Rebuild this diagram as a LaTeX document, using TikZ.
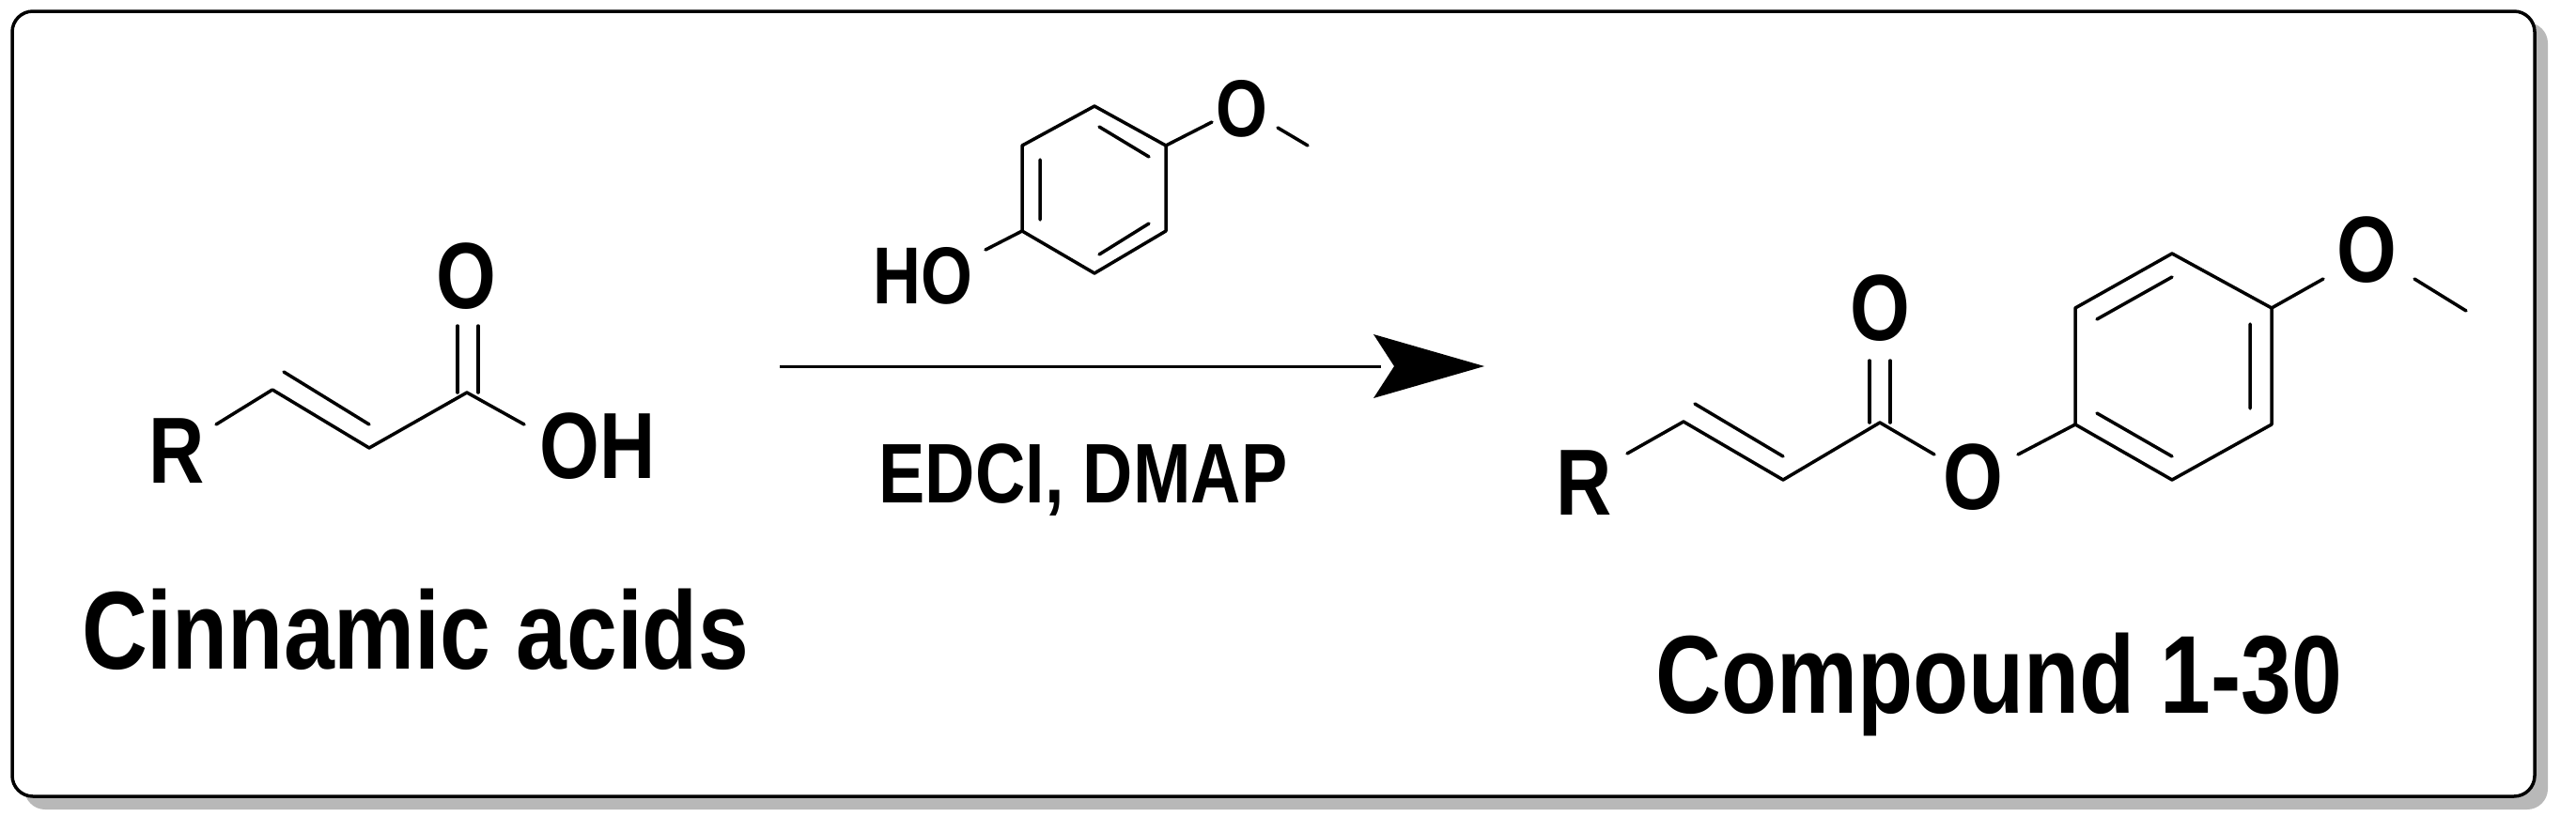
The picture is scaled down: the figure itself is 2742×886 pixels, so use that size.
\documentclass[tikz,border=0pt]{standalone}
\usepackage{fontspec}
\usepackage{graphicx}
\setmainfont{Liberation Sans}
\newcommand{\narw}[1]{\scalebox{0.82}[1]{#1}}
\begin{document}
\begin{tikzpicture}[x=1pt,y=-1pt,
  bond/.style={line width=3.5pt,line cap=round,line join=round},
  atom/.style={font=\fontsize{100}{110}\selectfont\bfseries,inner sep=0pt},
  atoms/.style={font=\fontsize{86}{96}\selectfont\bfseries,inner sep=0pt},
  lbl/.style={font=\fontsize{118}{130}\selectfont\bfseries,inner sep=0pt},
  cond/.style={font=\fontsize{90}{100}\selectfont\bfseries,inner sep=0pt}]
\useasboundingbox (0,0) rectangle (2742,886);
\fill[black!28,rounded corners=22pt] (26,24) rectangle (2712,862);
\draw[line width=3.5pt,fill=white,rounded corners=22pt] (13,12) rectangle (2698,848);
% left molecule
\node[atom] (R1) at (188,480) {\narw{R}};
\coordinate (a1) at (230,452); \coordinate (a2) at (290,415);
\coordinate (a3) at (393,477); \coordinate (a4) at (497,418);
\node[atom] (O1) at (496,294) {\narw{O}};
\node[atom] (OH) at (636,475) {\narw{OH}};
\draw[bond] (a1)--(a2)--(a3)--(a4)--(558,452);
\draw[bond] (302,396)--(393,452);
\draw[bond] (487,418)--(487,347) (509,418)--(509,347);
\node[lbl] (cin) at (442,670) {\narw{Cinnamic acids}};
% phenol
\coordinate (p1) at (1165,113); \coordinate (p2) at (1241,155);
\coordinate (p3) at (1241,246); \coordinate (p4) at (1165,291);
\coordinate (p5) at (1088,246); \coordinate (p6) at (1088,155);
\draw[bond] (p1)--(p2)--(p3)--(p4)--(p5)--(p6)--cycle;
\draw[bond] (1107,170)--(1107,234) (1170,135)--(1223,167) (1170,271)--(1223,238);
\draw[bond] (p5)--(1049,266);
\node[atoms] (HO) at (982,294) {\narw{HO}};
\draw[bond] (p2)--(1290,130);
\node[atoms] (O2) at (1322,116) {\narw{O}};
\draw[bond] (1360,136)--(1392,155);
% arrow
\coordinate (ar1) at (830,390); \coordinate (ar2) at (1580,390);
\draw[line width=3pt] (ar1)--(1470,390);
\fill (ar2)--(1462,356)--(1484,390)--(1462,424)--cycle;
\node[cond] (cnd) at (1153,511) {\narw{EDCI, DMAP}};
% product
\node[atom] (R2) at (1686,514) {\narw{R}};
\coordinate (b1) at (1732,483); \coordinate (b2) at (1792,449);
\coordinate (b3) at (1898,511); \coordinate (b4) at (2001,450);
\draw[bond] (b1)--(b2)--(b3)--(b4)--(2059,484);
\draw[bond] (1804,430)--(1898,486);
\draw[bond] (1990,450)--(1990,384) (2012,450)--(2012,384);
\node[atom] (O3) at (2001,328) {\narw{O}};
\node[atom] (O4) at (2100,508) {\narw{O}};
\coordinate (q1) at (2312,270); \coordinate (q2) at (2418,328);
\coordinate (q3) at (2418,452); \coordinate (q4) at (2312,511);
\coordinate (q5) at (2209,452); \coordinate (q6) at (2209,328);
\draw[bond] (2148,484)--(q5);
\draw[bond] (q1)--(q2)--(q3)--(q4)--(q5)--(q6)--cycle;
\draw[bond] (2232,340)--(2312,295) (2232,440)--(2312,486) (2395,345)--(2395,435);
\draw[bond] (q2)--(2473,297);
\node[atom] (O5) at (2519,266) {\narw{O}};
\draw[bond] (2570,297)--(2625,331);
\node[lbl] (cmp) at (2128,729) {\narw{Compound 1-30}};
\end{tikzpicture}
\end{document}
